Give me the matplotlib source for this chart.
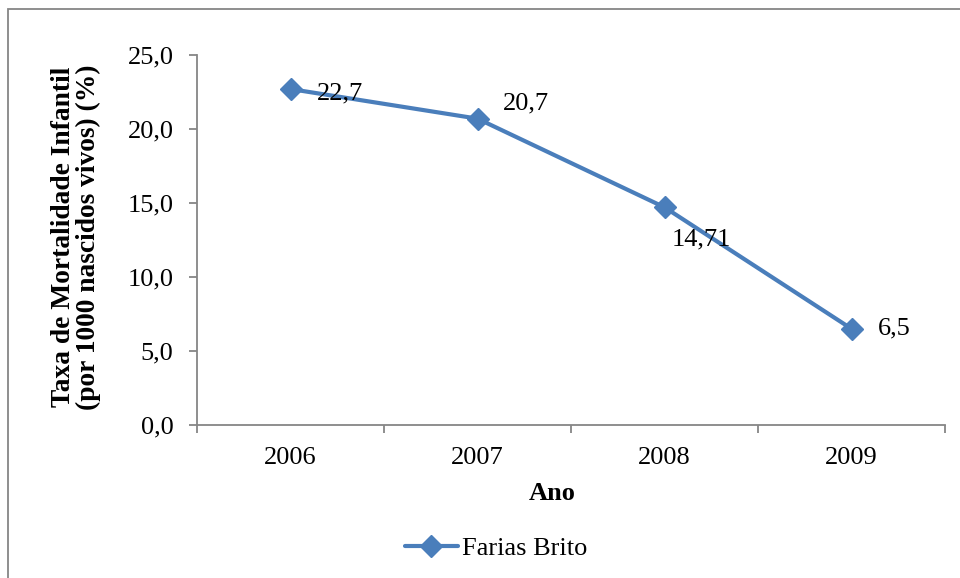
import matplotlib.pyplot as plt
from matplotlib.patches import Rectangle
from matplotlib.ticker import FixedLocator

# --- data ---
years = ['2006', '2007', '2008', '2009']
taxa = [22.7, 20.7, 14.71, 6.5]
rotulos = ['22,7', '20,7', '14,71', '6,5']
serie = 'Farias Brito'

plt.rcParams['font.family'] = ['Liberation Serif', 'DejaVu Serif']
azul = '#4A7EBB'
cinza = '#868686'
fs = 19

fig = plt.figure(figsize=(9.6, 5.78), dpi=100)
ax = fig.add_axes([197/960, 1-425/578, 748/960, 370/578])

x = range(len(years))
ax.plot(x, taxa, color=azul, lw=3.0, marker='D', ms=11, mfc=azul, mec=azul,
        solid_capstyle='round', label=serie)

# data labels (offsets in points)
offs = [(19, -3), (18, 11), (5, -23), (19, 0)]
for xi, yi, lab, off in zip(x, taxa, rotulos, offs):
    ax.annotate(lab, (xi, yi), xytext=off, textcoords='offset points',
                ha='left', va='center', fontsize=fs)

ax.set_xlim(-0.5, 3.5)
ax.set_ylim(0, 25)
ax.set_yticks([0, 5, 10, 15, 20, 25])
ax.set_yticklabels([f'{v:.1f}'.replace('.', ',') for v in [0, 5, 10, 15, 20, 25]])
ax.set_xticks(list(x))
ax.set_xticklabels(years)
ax.xaxis.set_minor_locator(FixedLocator([-0.5, 0.5, 1.5, 2.5, 3.5]))

for s in ['top', 'right']:
    ax.spines[s].set_visible(False)
for s in ['left', 'bottom']:
    ax.spines[s].set_color(cinza)
    ax.spines[s].set_linewidth(1.3)

ax.tick_params(axis='y', direction='out', length=6, width=1.3, color=cinza,
               labelsize=fs, pad=11)
ax.tick_params(axis='x', which='major', length=0, labelsize=fs, pad=16)
ax.tick_params(axis='x', which='minor', direction='out', length=6, width=1.3,
               color=cinza)

fig.text(76/960, 1-237/578, 'Taxa de Mortalidade Infantil\n(por 1000 nascidos vivos) (%)',
         rotation=90, ha='center', va='center', fontsize=19.8, fontweight='bold',
         linespacing=1.0)
fig.text(552/960, 1-493/578, 'Ano', ha='center', va='center', fontsize=fs,
         fontweight='bold')

fig.legend(loc='center', bbox_to_anchor=(496/960, 1-548/578), frameon=False,
           prop={'family': 'Liberation Serif', 'size': fs},
           handlelength=2.0, handletextpad=0.15, borderpad=0)

# chart border
fig.patches.append(Rectangle((8/960, -0.1), 1.1, 1-9/578+0.1, transform=fig.transFigure,
                             fill=False, edgecolor=cinza, lw=1.3))

fig.savefig('out.png', dpi=100)
